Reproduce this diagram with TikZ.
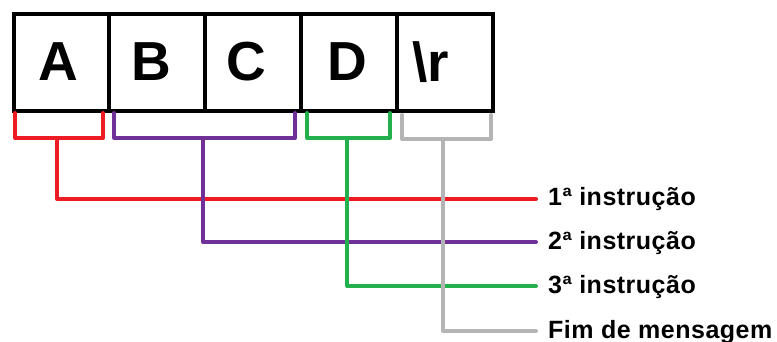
\documentclass[tikz,border=0pt]{standalone}
\usepackage{fontspec}
\setmainfont{Liberation Sans}
\newfontfamily\labfont[LetterSpace=2]{Liberation Sans}
\definecolor{cred}{HTML}{ED1C24}
\definecolor{cpurple}{HTML}{6F3198}
\definecolor{cgreen}{HTML}{22B14C}
\definecolor{cgray}{HTML}{B4B4B4}
\begin{document}
\begin{tikzpicture}[x=1pt,y=-1pt,
  cell/.style={draw=black,line width=4pt,minimum width=95.5pt,minimum height=97pt,inner sep=0pt,outer sep=0pt},
  letter/.style={font=\fontsize{55}{55}\selectfont\bfseries,inner sep=0pt},
  lab/.style={font=\labfont\fontsize{25}{26}\selectfont\bfseries,anchor=base west,inner sep=0pt},
  conn/.style={line width=4pt,line cap=round,line join=round},
  toLab/.style={xshift=-12pt,yshift=7pt}]
\useasboundingbox (0,0) rectangle (777,342);
% cells
\node[cell] (cA) at (61.5,62.5) {};
\node[cell] (cB) at (157,62.5) {};
\node[cell] (cC) at (253,62.5) {};
\node[cell] (cD) at (349,62.5) {};
\node[cell] (cR) at (445,62.5) {};
\node[letter] (tA) at (58,62) {A};
\node[letter] (tB) at (151,62) {B};
\node[letter] (tC) at (246,62) {C};
\node[letter] (tD) at (347.5,62) {D};
\node[letter] (tR) at (431,62) {\textbackslash r};
% labels (base line 7 below the connector)
\node[lab] (l1) at (548,206) {1ª instrução};
\node[lab] (l2) at (548,249) {2ª instrução};
\node[lab] (l3) at (548,293) {3ª instrução};
\node[lab] (l4) at (548,338) {Fim de mensagem};
% brackets and connectors
\draw[conn,cred] (15,113) |- (103,138) -- (103,113);
\draw[conn,cred] (57,138) |- ([toLab]l1.base west);
\draw[conn,cpurple] (114,113) |- (295,138) -- (295,113);
\draw[conn,cpurple] (203,138) |- ([toLab]l2.base west);
\draw[conn,cgreen] (307,113) |- (390,138) -- (390,113);
\draw[conn,cgreen] (347,138) |- ([toLab]l3.base west);
\draw[conn,cgray] (402,115) |- (491,139) -- (491,115);
\draw[conn,cgray] (443,139) |- ([toLab]l4.base west);
\end{tikzpicture}
\end{document}
